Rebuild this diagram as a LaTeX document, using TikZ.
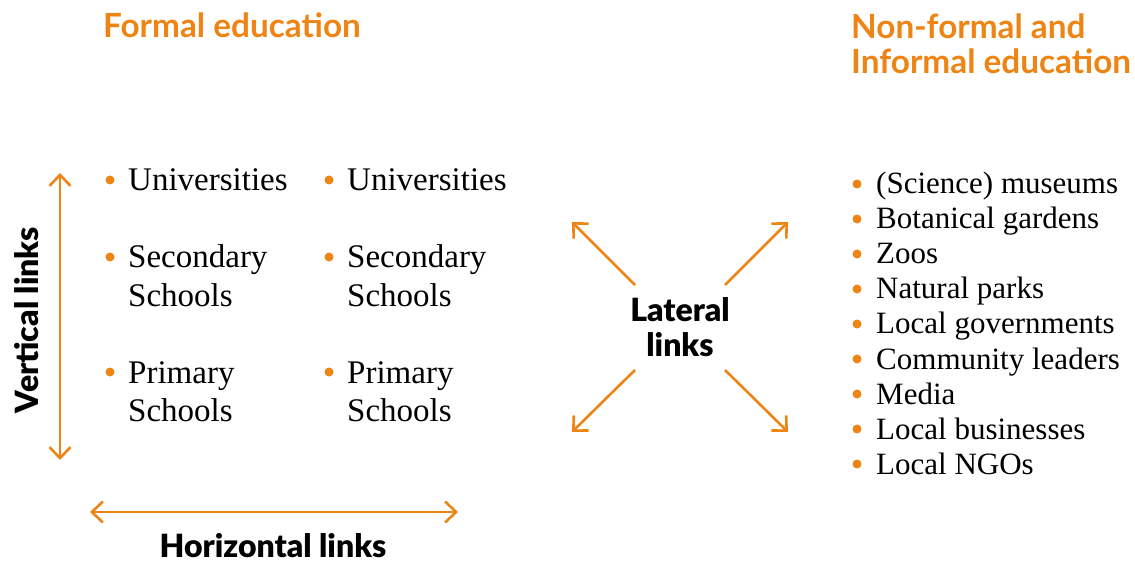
\documentclass[tikz,border=0pt]{standalone}
\usepackage{fontspec}
\setmainfont{Liberation Serif}
\newfontfamily\headfont{Lato Bold}
\newfontfamily\lblfont{Lato Black}
\usetikzlibrary{arrows.meta}
\definecolor{orng}{HTML}{EE8414}
\tikzset{
  head/.style={anchor=base west, inner sep=0pt, text=orng, font=\headfont\fontsize{33.3}{35}\selectfont},
  lbl/.style={anchor=base, inner sep=0pt, font=\lblfont\fontsize{32}{34}\selectfont},
  itm/.style={anchor=base west, inner sep=0pt, font=\fontsize{33}{38}\selectfont},
  ritm/.style={anchor=base west, inner sep=0pt, font=\fontsize{31}{35}\selectfont},
  dot/.style={circle, fill=orng, inner sep=0pt, minimum size=9pt},
  mytip/.tip={Straight Barb[length=11pt,width=21pt,line width=2.6pt]},
  lnk/.style={draw=orng, line width=2.6pt, {mytip}-{mytip}},
  lat/.style={draw=orng, line width=2.6pt, -{mytip}}
}
\begin{document}
\begin{tikzpicture}[x=1pt,y=-1pt]
\useasboundingbox (0,0) rectangle (1135,561);
\node[head] (fh) at (103,38) {Formal education};
\node[head] (nh1) at (851,39) {Non-formal and};
\node[head] (nh2) at (851,74) {Informal education};
% vertical
\coordinate (vt) at (60,173);
\coordinate (vb) at (60,460);
\draw[lnk] (vt) -- (vb);
\node[lbl, rotate=90] (vl) at (38,320) {Vertical links};
% horizontal
\coordinate (hl) at (90,512);
\coordinate (hr) at (458,512);
\draw[lnk] (hl) -- (hr);
\node[lbl] (hlab) at (273,557) {Horizontal links};
% columns
\foreach \c/\bx in {a/110,b/329}{
  \node[dot] (u\c d) at (\bx,180) {};
  \node[itm] (u\c) at (\bx+18,191) {Universities};
  \node[dot] (s\c d) at (\bx,257) {};
  \node[itm] (s\c) at (\bx+18,268) {Secondary};
  \node[itm] (s\c 2) at (\bx+18,306) {Schools};
  \node[dot] (p\c d) at (\bx,372) {};
  \node[itm] (p\c) at (\bx+18,383) {Primary};
  \node[itm] (p\c 2) at (\bx+18,421) {Schools};
}
% lateral
\node[lbl] (ll1) at (680,322) {Lateral};
\node[lbl] (ll2) at (680,356) {links};
\coordinate (nwe) at (572,222);
\coordinate (nee) at (788,222);
\coordinate (swe) at (572,432);
\coordinate (see) at (788,432);
\coordinate (nws) at (635,285);
\coordinate (nes) at (725,285);
\coordinate (sws) at (635,370);
\coordinate (ses) at (725,370);
\draw[lat] (nws) -- (nwe);
\draw[lat] (nes) -- (nee);
\draw[lat] (sws) -- (swe);
\draw[lat] (ses) -- (see);
% right list
\foreach \i/\t in {0/(Science) museums,1/Botanical gardens,2/Zoos,3/Natural parks,4/Local governments,5/Community leaders,6/Media,7/Local businesses,8/Local NGOs}{
  \node[dot] (rd\i) at (857,{184+35*\i}) {};
  \node[ritm] (r\i) at (876,{194+35*\i}) {\t};
}
\end{tikzpicture}
\end{document}
